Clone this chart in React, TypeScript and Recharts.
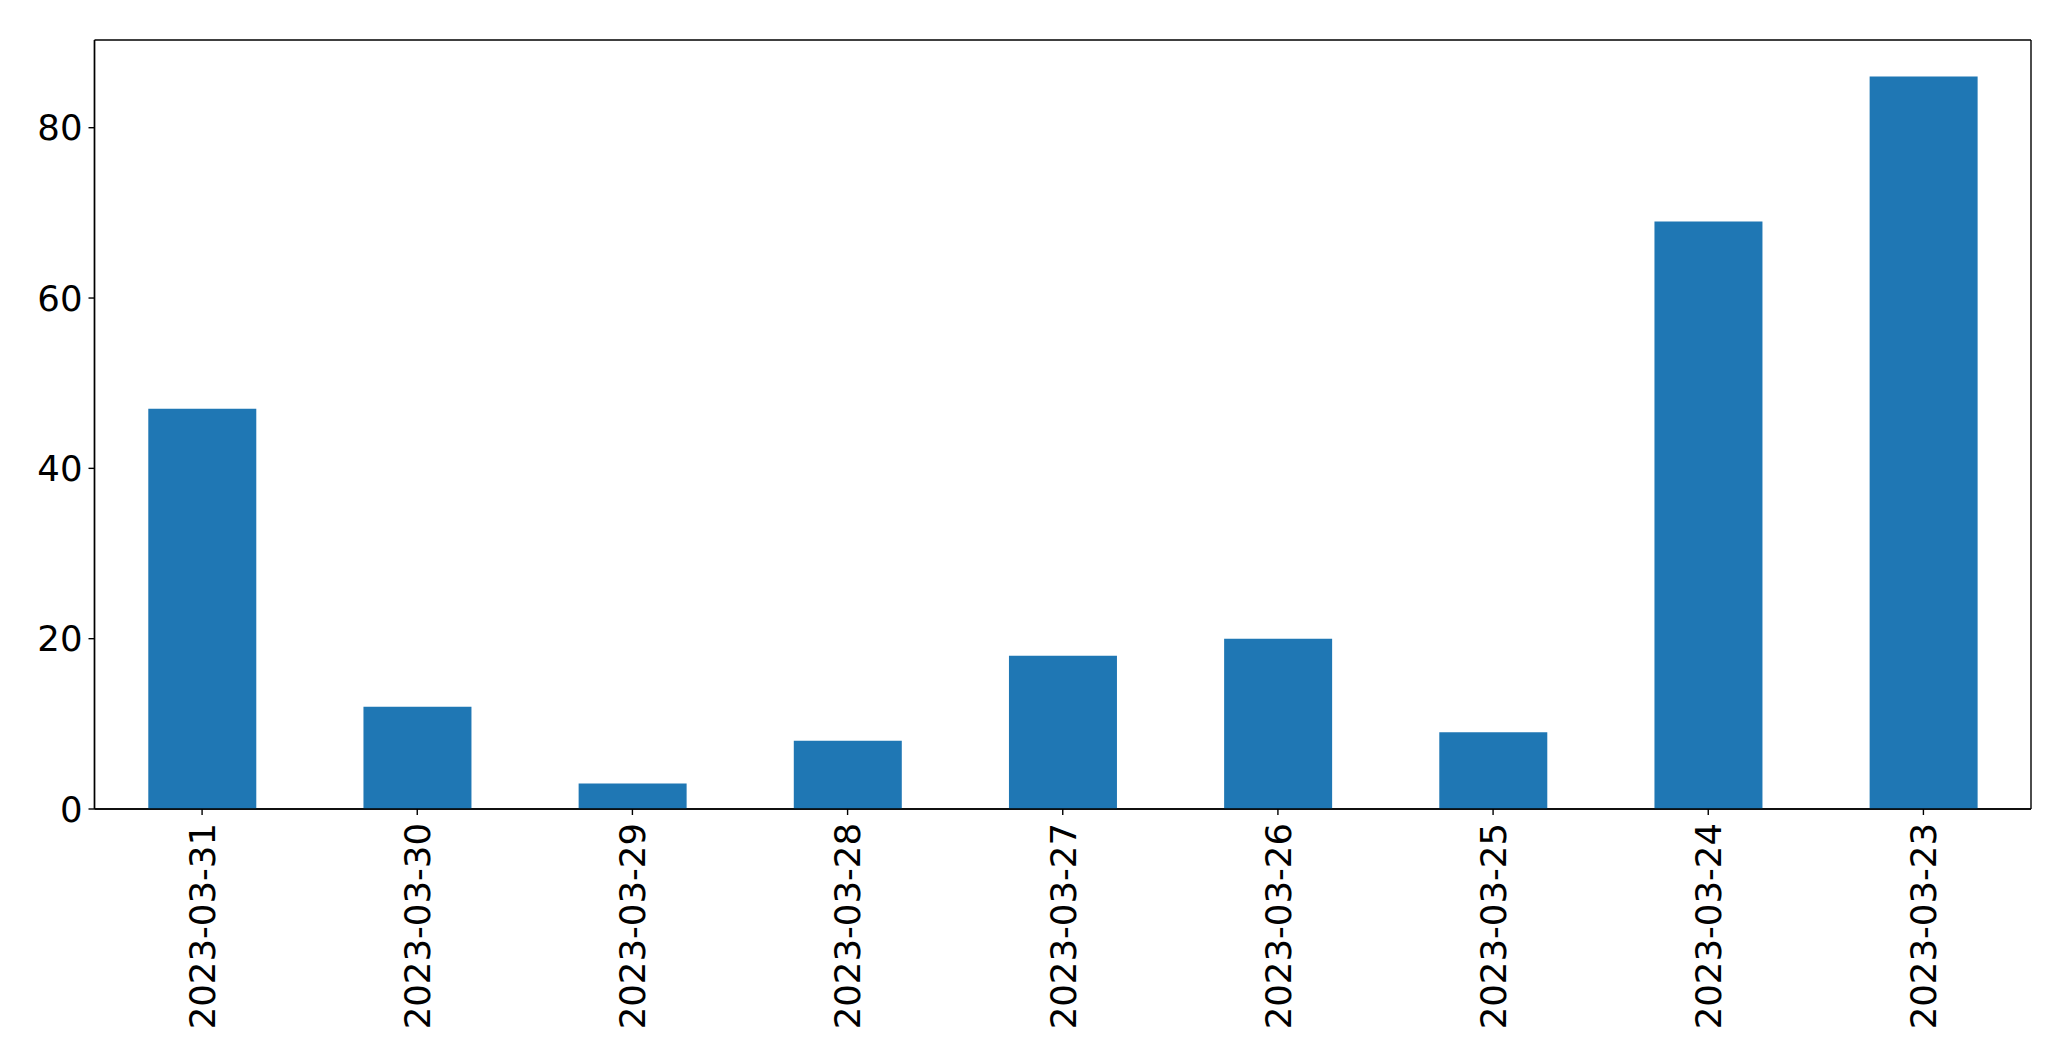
import { Bar, BarChart, CartesianGrid, XAxis, YAxis } from "recharts";

const dates = [
  "2023-03-31",
  "2023-03-30",
  "2023-03-29",
  "2023-03-28",
  "2023-03-27",
  "2023-03-26",
  "2023-03-25",
  "2023-03-24",
  "2023-03-23",
];
const counts = [47, 12, 3, 8, 18, 20, 9, 69, 86];
const yTicks = [0, 20, 40, 60, 80];

const rows = dates.map((d, i) => ({ date: d, value: counts[i] }));

const FONT = "DejaVu Sans";
const FS = 35.5;

// 縦書き（-90度回転）の日付ラベル
function DateTick(props: any) {
  const { x, y, payload } = props;
  return (
    <g transform={`translate(${x},${y})`}>
      <text
        transform="rotate(-90)"
        textAnchor="end"
        dy="0.36em"
        fontFamily={FONT}
        fontSize={FS}
        fill="#000"
      >
        {payload.value}
      </text>
    </g>
  );
}

export default function App() {
  return (
    <div style={{ position: "absolute", left: 0, top: 0, background: "#fff" }}>
      <BarChart
        width={2071}
        height={1061}
        data={rows}
        margin={{ top: 40, right: 40, bottom: 0, left: 0 }}
        barCategoryGap="25%"
      >
        {/* 枠線: プロット領域の上下左右だけに線を引く */}
        <CartesianGrid
          stroke="#000"
          strokeWidth={1.4}
          horizontalCoordinatesGenerator={({ offset }: any) => [
            offset.top,
            offset.top + offset.height,
          ]}
          verticalCoordinatesGenerator={({ offset }: any) => [
            offset.left,
            offset.left + offset.width,
          ]}
        />
        <XAxis
          dataKey="date"
          height={252}
          interval={0}
          tick={<DateTick />}
          tickSize={6}
          tickMargin={8}
          tickLine={{ stroke: "#000", strokeWidth: 1.4 }}
          axisLine={{ stroke: "#000", strokeWidth: 1.4 }}
        />
        <YAxis
          width={94.5}
          domain={[0, 90.3]}
          ticks={yTicks}
          tickSize={6}
          tickMargin={6}
          tick={{ fontFamily: FONT, fontSize: FS, fill: "#000" }}
          tickLine={{ stroke: "#000", strokeWidth: 1.4 }}
          axisLine={{ stroke: "#000", strokeWidth: 1.4 }}
        />
        <Bar dataKey="value" fill="#1f77b4" isAnimationActive={false} />
      </BarChart>
    </div>
  );
}
